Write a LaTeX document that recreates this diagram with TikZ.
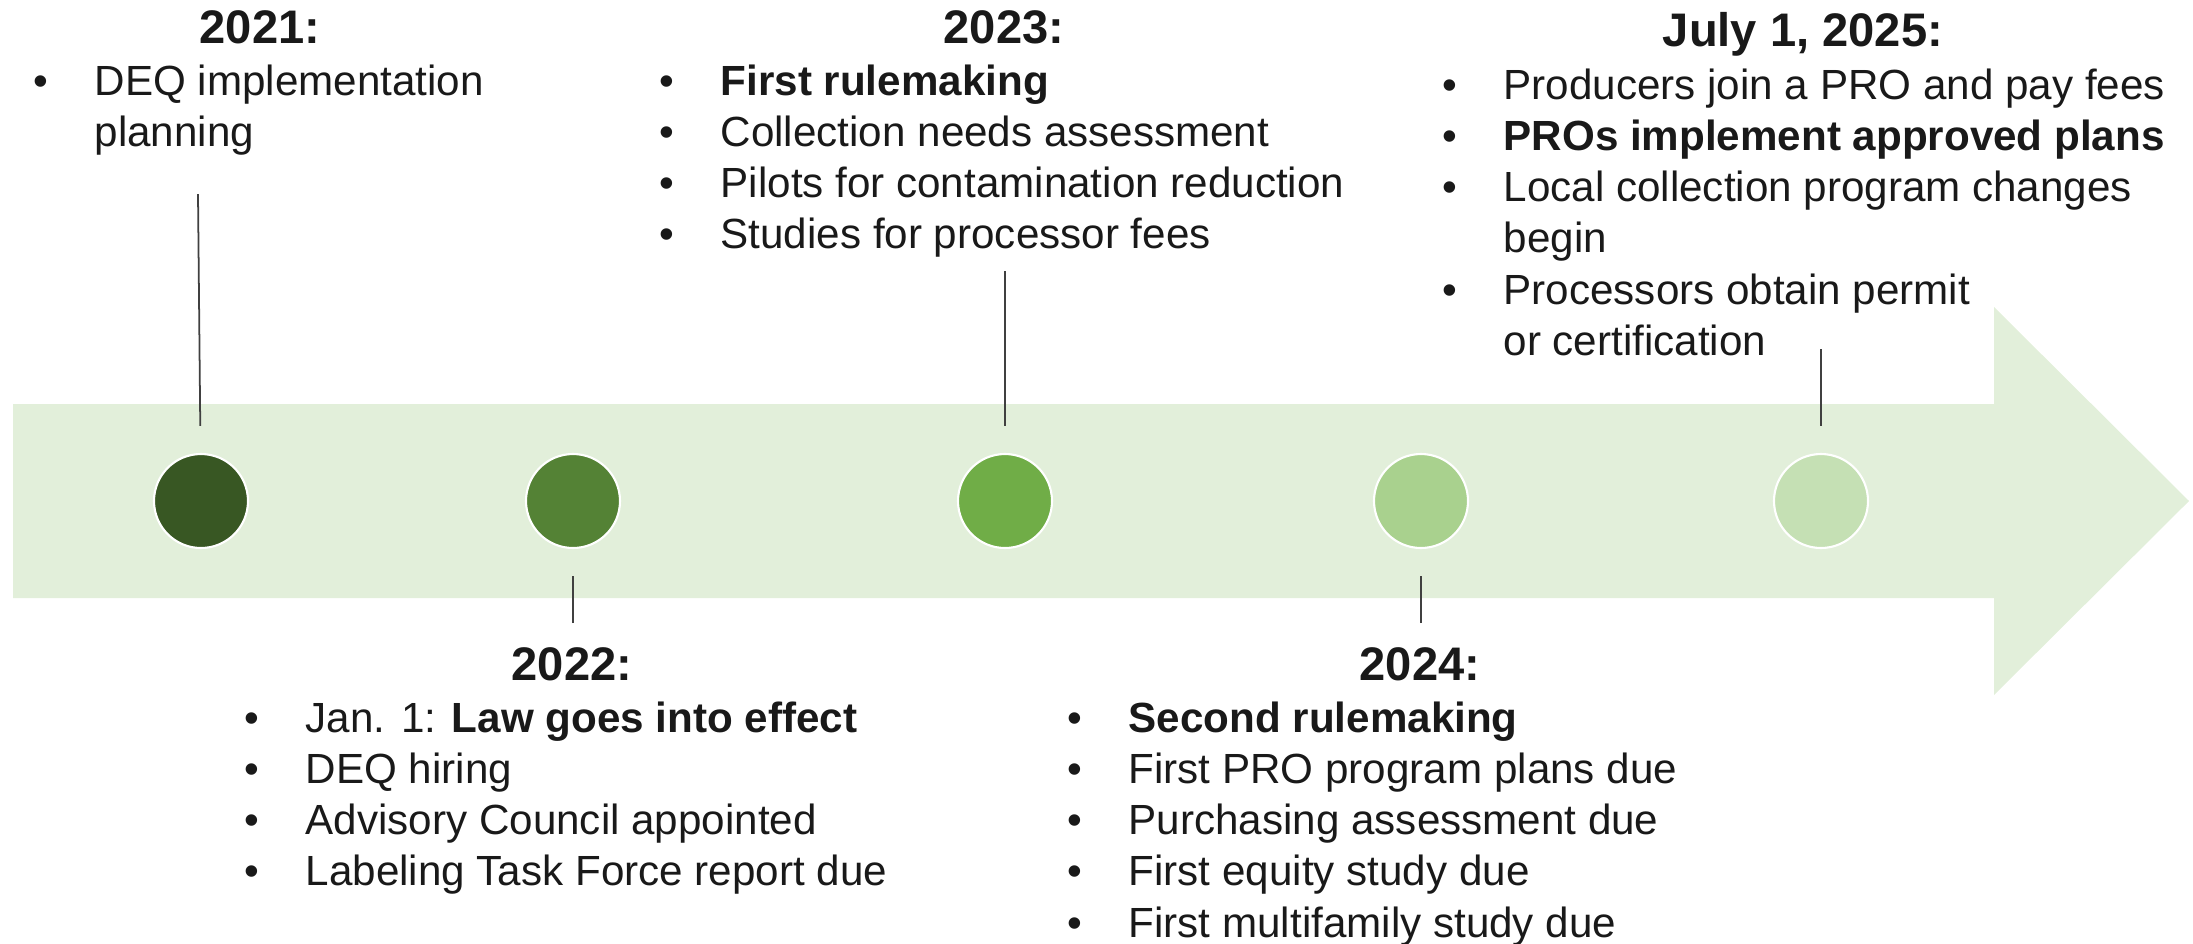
\documentclass[tikz,border=0pt]{standalone}
\usepackage{fontspec}
\setmainfont{Liberation Sans}
\usepackage{tikz}
\usetikzlibrary{positioning,calc}

\definecolor{bandgreen}{HTML}{E2EFDA}
\definecolor{gA}{HTML}{385723}
\definecolor{gB}{HTML}{548235}
\definecolor{gC}{HTML}{70AD47}
\definecolor{gD}{HTML}{A9D18E}
\definecolor{gE}{HTML}{C5E0B4}

\newcommand{\itm}{\makebox[0.61cm][l]{\textbullet}}
\newcommand{\cnt}{\hspace*{0.61cm}}

\begin{document}
\begin{tikzpicture}[
    font=\fontsize{12}{14.6}\selectfont,
    text=black!90,
    dot/.style={circle, draw=white, line width=0.6pt, minimum size=0.94cm, inner sep=0pt},
    yr/.style={anchor=base, inner sep=0pt, font=\fontsize{13.4}{16}\selectfont\bfseries},
    lst/.style={anchor=base west, inner sep=0pt},
    tick/.style={draw=black!75, line width=0.5pt, shorten >=0.27cm},
  ]
  \useasboundingbox (0,0) rectangle (21.93,-9.43);

  % the big arrow
  \fill[bandgreen] (0.13,-4.04) -- (19.94,-4.04) -- (19.94,-3.07) -- (21.89,-5.01)
    -- (19.94,-6.95) -- (19.94,-5.98) -- (0.13,-5.98) -- cycle;

  % milestones
  \foreach \n/\x/\c in {21/2.01/gA, 22/5.73/gB, 23/10.05/gC, 24/14.21/gD, 25/18.21/gE}
    \node[dot, fill=\c] (dot\n) at (\x,-5.01) {};

  % 2021
  \node[yr] (ttl21) at (2.60,-0.43) {2021:};
  \node[lst] (txt21) at (0.33,-0.95) {\begin{tabular}[t]{@{}l@{}}
    \itm DEQ implementation\\
    \cnt planning
  \end{tabular}};
  \coordinate (top21) at (1.98,-1.94);
  \draw[tick] (top21) -- (dot21);

  % 2022
  \node[yr] (ttl22) at (5.72,-6.80) {2022:};
  \node[lst] (txt22) at (2.44,-7.32) {\begin{tabular}[t]{@{}l@{}}
    \itm Jan. 1: \textbf{Law goes into effect}\\
    \itm DEQ hiring\\
    \itm Advisory Council appointed\\
    \itm Labeling Task Force report due
  \end{tabular}};
  \coordinate (bot22) at (5.73,-6.23);
  \draw[tick] (bot22) -- (dot22);

  % 2023
  \node[yr] (ttl23) at (10.04,-0.43) {2023:};
  \node[lst] (txt23) at (6.59,-0.95) {\begin{tabular}[t]{@{}l@{}}
    \itm \textbf{First rulemaking}\\
    \itm Collection needs assessment\\
    \itm Pilots for contamination reduction\\
    \itm Studies for processor fees
  \end{tabular}};
  \coordinate (top23) at (10.05,-2.71);
  \draw[tick] (top23) -- (dot23);

  % 2024
  \node[yr] (ttl24) at (14.20,-6.80) {2024:};
  \node[lst] (txt24) at (10.67,-7.32) {\begin{tabular}[t]{@{}l@{}}
    \itm \textbf{Second rulemaking}\\
    \itm First PRO program plans due\\
    \itm Purchasing assessment due\\
    \itm First equity study due\\
    \itm First multifamily study due
  \end{tabular}};
  \coordinate (bot24) at (14.21,-6.23);
  \draw[tick] (bot24) -- (dot24);

  % July 2025
  \node[yr] (ttl25) at (18.03,-0.46) {July 1, 2025:};
  \node[lst] (txt25) at (14.42,-0.99) {\begin{tabular}[t]{@{}l@{}}
    \itm Producers join a PRO and pay fees\\
    \itm \textbf{PROs implement approved plans}\\
    \itm Local collection program changes\\
    \cnt begin\\
    \itm Processors obtain permit\\
    \cnt or certification
  \end{tabular}};
  \coordinate (top25) at (18.21,-3.49);
  \draw[tick] (top25) -- (dot25);
\end{tikzpicture}
\end{document}
